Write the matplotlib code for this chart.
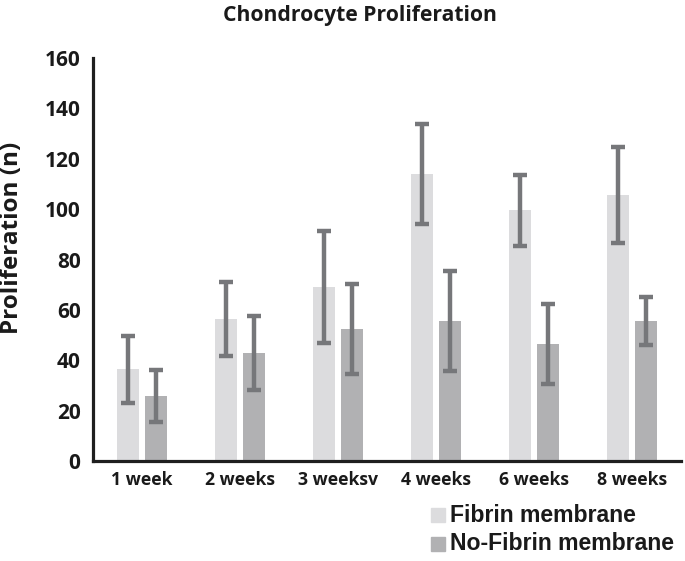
import matplotlib
matplotlib.use("Agg")
import matplotlib.pyplot as plt
import numpy as np
from matplotlib.patches import Rectangle

categories = ["1 week", "2 weeks", "3 weeksv", "4 weeks", "6 weeks", "8 weeks"]
fibrin = [36.5, 56.3, 69.2, 113.9, 99.6, 105.6]
fibrin_err = [13.3, 14.7, 22.2, 19.9, 14.1, 19.0]
nofibrin = [25.8, 42.9, 52.4, 55.6, 46.4, 55.6]
nofibrin_err = [10.3, 14.7, 17.7, 20.0, 16.0, 9.7]
series_names = ["Fibrin membrane", "No-Fibrin membrane"]
yticks = [0, 20, 40, 60, 80, 100, 120, 140, 160]

c_fib = "#dcdcde"
c_nofib = "#b1b1b3"
c_err = "#76777a"

fig = plt.figure(figsize=(6.85, 5.61), dpi=100)
ax = fig.add_axes([93/685, 100/561, (681-93)/685, (461-58)/561])

x = np.arange(len(categories))
w = 22/98
off = 14/98
ax.bar(x - off, fibrin, w, color=c_fib, zorder=2)
ax.bar(x + off, nofibrin, w, color=c_nofib, zorder=2)
ekw = dict(fmt="none", ecolor=c_err, elinewidth=3.2, capsize=5, capthick=3.2, zorder=3)
ax.errorbar(x - off, fibrin, yerr=fibrin_err, **ekw)
ax.errorbar(x + off, nofibrin, yerr=nofibrin_err, **ekw)

ax.set_xlim(-0.5, len(categories) - 0.5)
ax.set_ylim(0, 160)
ax.set_yticks(yticks)
ax.set_xticks(x)
ax.set_xticklabels(categories, fontfamily="Open Sans", fontweight="bold", fontsize=12.7)
for lab in ax.get_yticklabels():
    lab.set_fontfamily("Open Sans")
    lab.set_fontweight("bold")
    lab.set_fontsize(15)
ax.tick_params(axis="both", length=0, colors="#1a1a1a")
ax.tick_params(axis="x", pad=7)
ax.tick_params(axis="y", pad=9)
for s in ["top", "right"]:
    ax.spines[s].set_visible(False)
for s in ["left", "bottom"]:
    ax.spines[s].set_linewidth(2.3)
    ax.spines[s].set_color("#1f1f1f")

ax.set_ylabel("Proliferation (n)", fontfamily="Open Sans", fontweight="bold", fontsize=17.5, color="#1a1a1a")
ax.yaxis.set_label_coords(-0.117, 0.553)
fig.text(0.525, 0.972, "Chondrocyte Proliferation", ha="center", va="center",
         fontfamily="Open Sans", fontweight="bold", fontsize=15.2, color="#1a1a1a")

# legend
for i, (name, col) in enumerate(zip(series_names, [c_fib, c_nofib])):
    yc = 1 - (515 + i * 29) / 561
    fig.patches.append(Rectangle((431/685, yc - 7/561), 14/685, 14/561,
                                 transform=fig.transFigure, color=col, figure=fig))
    fig.text(450/685, yc, name, ha="left", va="center", fontfamily="Liberation Sans",
             fontweight="bold", fontsize=16.6, color="#1a1a1a")

fig.savefig("out.png", dpi=100)
